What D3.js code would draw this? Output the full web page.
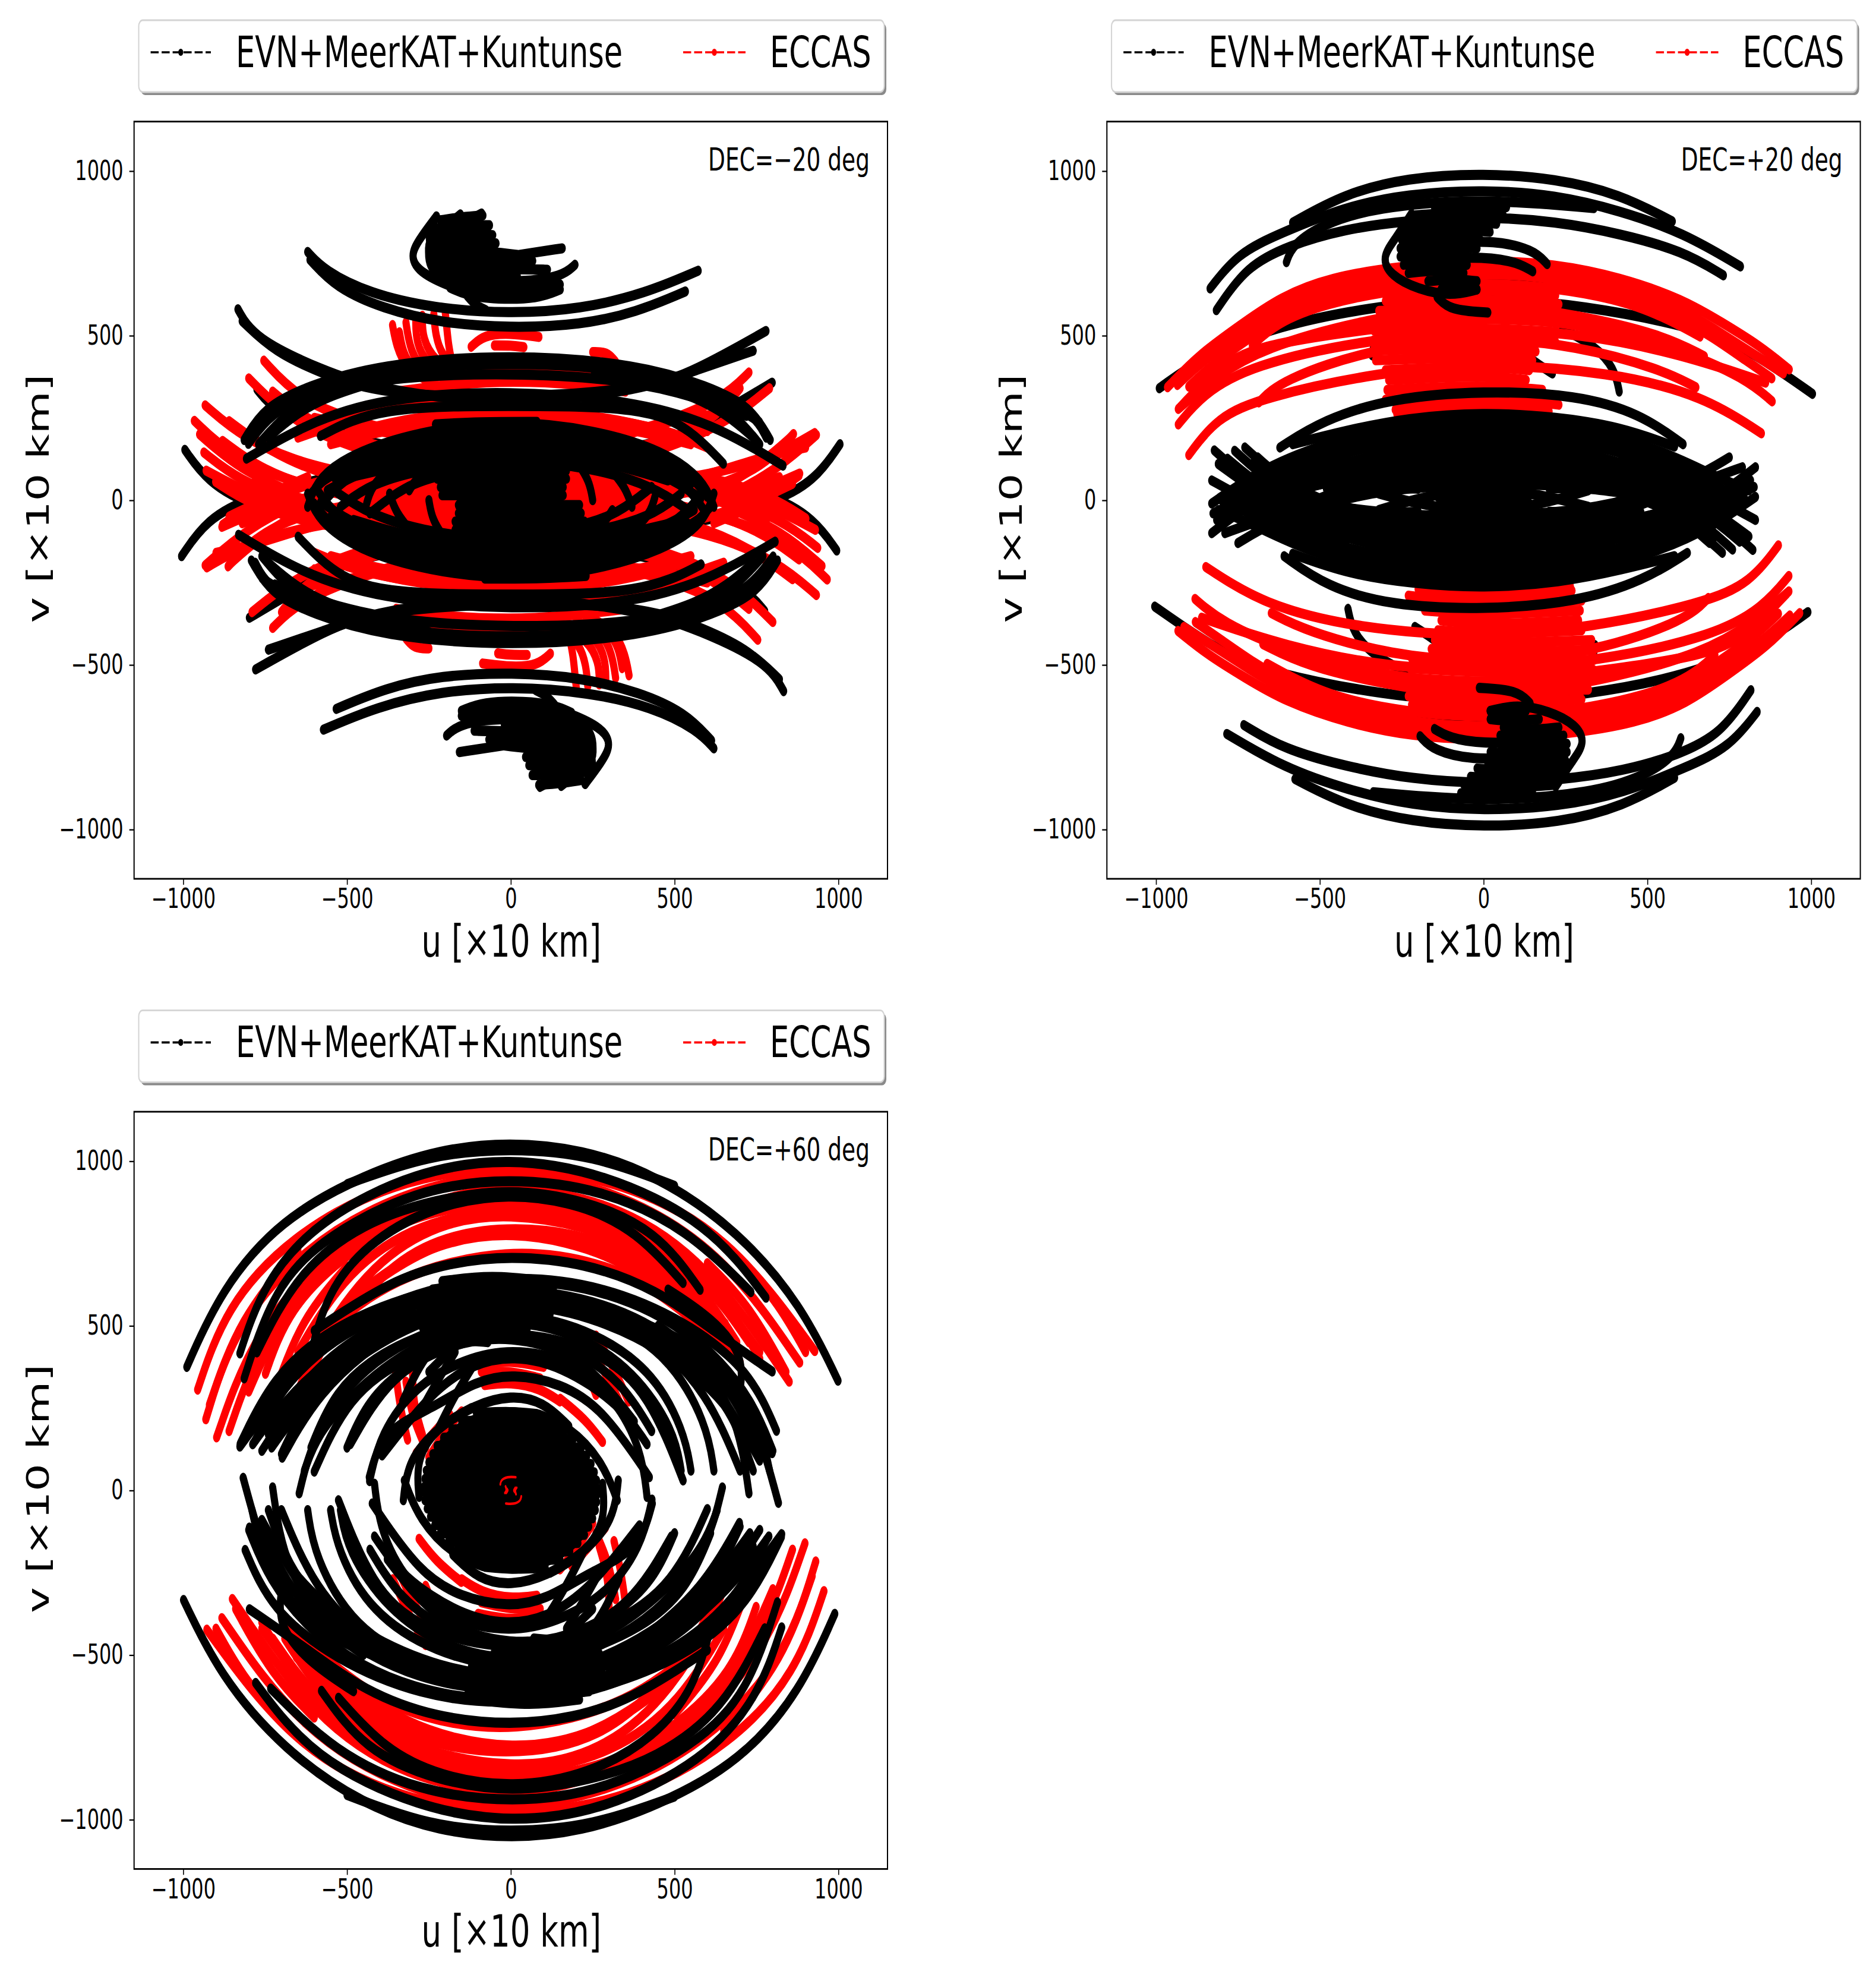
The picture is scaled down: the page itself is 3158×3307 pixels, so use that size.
<!DOCTYPE html>
<html><head><meta charset="utf-8">
<script src="https://cdn.jsdelivr.net/npm/d3@7"></script>
<style>html,body{margin:0;padding:0;background:#fff}svg{display:block}text{font-family:"DejaVu Sans",sans-serif;fill:#000}</style>
</head><body><svg id="fig" width="3158" height="3307"></svg>
<script>
// Tick values and labels
const tickValues = [-1000,-500,0,500,1000];
const seriesNames = ["EVN+MeerKAT+Kuntunse","ECCAS"];
const seriesColors = ["#000000","#ff0000"];
const decLabels = ["DEC=\u221220 deg","DEC=+20 deg","DEC=+60 deg"];
const axisLabels = ["u [\u00d710 km]","v [\u00d710 km]"];

// Tracks as [u,v] points. Only one half is listed:
// every track is drawn with its conjugate (-u,-v), as the picture shows.
const decM20BlackBack = [
 [[-775,337],[-725,275],[-613,231],[-445,177],[-200,130],[0,118],[200,130],[475,177],[578,225],[700,300],[798,357]],
 [[-995,153],[-930,60],[-800,-20],[-500,-90],[0,-130],[500,-90],[800,-10],[930,60],[1005,170]]
];
const decM20Red = [
 [[-933,288],[-820,190],[-620,100],[-320,50],[0,30],[320,40],[620,75],[820,140],[928,204]],
 [[-966,241],[-850,130],[-650,45],[-350,-10],[0,-25],[350,-10],[650,40],[790,120],[863,201]],
 [[-937,145],[-830,60],[-650,-10],[-350,-60],[0,-75],[350,-60],[650,-5],[790,40],[882,81]],
 [[-901,56],[-800,-10],[-620,-70],[-350,-110],[0,-125],[300,-110],[600,-60],[780,10],[860,50]],
 [[-754,424],[-650,310],[-450,220],[-200,170],[0,160],[200,170],[450,220],[650,310],[727,388]],
 [[-727,330],[-620,240],[-450,170],[-200,125],[0,115],[200,125],[450,170],[620,240],[700,340]],
 [[-880,180],[-760,90],[-560,20],[-300,-20],[0,-35]],
 [[-800,370],[-680,250],[-500,160],[-250,105],[0,90],[250,105],[500,160],[680,250],[790,340]],
 [[-860,240],[-740,150],[-560,70],[-300,20],[0,5],[300,15],[560,60],[760,130],[900,160]],
 [[-780,60],[-640,0],[-450,-50],[-200,-80],[0,-90],[200,-80],[450,-50],[640,0],[820,70]],
 [[-950,200],[-830,95],[-660,20]],
 [[-930,90],[-800,20],[-640,-35]],
 [[-933,-198],[-810,-90],[-640,0],[-500,50]],
 [[-858,-194],[-740,-90],[-600,-15]],
 [[-880,-75],[-760,10],[-620,70]],
 [[-650,190],[-480,250],[-300,290],[-100,305]],
 [[-620,300],[-480,240],[-320,200],[-100,180]],
 [[-600,250],[-450,215],[-300,195]],
 [[-600,215],[-450,270],[-300,300]],
 [[300,300],[450,270],[600,210]],
 [[300,195],[450,225],[620,300]],
 [[330,240],[470,215],[600,160]],
 [[330,190],[470,240],[620,260]],
 [[-500,340],[-250,395],[0,408],[250,395],[500,340]],
 [[-350,330],[-150,355],[0,362],[200,355],[350,330]],
 [[-200,305],[0,312],[200,305]],
 [[-500,200],[-300,255],[0,275],[300,255],[500,200]],
 [[-550,170],[-320,230],[0,252],[320,230],[550,170]],
 [[-361,532],[-350,470],[-320,400],[-250,360]],
 [[-340,510],[-330,450],[-300,395],[-230,365]],
 [[-320,540],[-310,470],[-280,400],[-200,370]],
 [[-290,550],[-290,480],[-255,410],[-190,380]],
 [[-270,560],[-270,490],[-230,420],[-170,390]],
 [[-235,565],[-230,500],[-210,440],[-175,410]],
 [[-200,570],[-195,520],[-190,470],[-180,420]],
 [[-121,466],[-82,502],[-5,508],[86,496]],
 [[-50,470],[0,470],[40,465]],
 [[250,450],[295,450],[320,420]],
 [[-500,50],[-300,110],[0,135],[300,110],[500,50]],
 [[-520,-20],[-300,60],[0,85],[300,60],[520,-20]]
];
const decM20Black = [
 [[-620,754],[-568,697],[-432,628],[-238,583],[-5,566],[215,580],[410,628],[572,697]],
 [[-613,730],[-535,646],[-393,583],[-212,538],[-5,523],[215,532],[384,571],[533,634]],
 [[-227,862],[-277,796],[-309,742],[-277,688],[-160,640],[-100,622]],
 [[-227,862],[-257,808],[-238,742],[-134,718],[21,745],[157,765]],
 [[-154,868],[-212,820],[-225,754],[-134,694],[8,703],[112,700]],
 [[-89,871],[-160,832],[-186,760],[-108,712],[67,727]],
 [[196,715],[157,679],[34,661],[-134,670],[-225,706],[-238,754]],
 [[151,655],[99,640],[-31,631],[-160,652],[-251,694],[-251,766]],
 [[151,640],[86,613],[-43,610],[-134,622],[-186,646]],
 [[-134,622],[-108,592],[-76,577]],
 [[-215,850],[-150,860],[-85,865]],
 [[-230,825],[-140,835],[-65,835]],
 [[-245,800],[-140,810],[-55,805]],
 [[-250,775],[-140,785],[-45,780]],
 [[-250,750],[-100,760],[20,745]],
 [[-245,725],[-100,735],[60,730]],
 [[-235,700],[-80,705],[100,700]],
 [[-210,680],[-100,685],[20,680]],
 [[-180,660],[-60,665],[100,660]],
 [[-120,640],[-30,640],[80,640]],
 [[-833,580],[-782,490],[-574,394],[-406,336],[-5,285],[410,336],[565,394],[779,514]],
 [[-820,544],[-723,451],[-568,381],[-393,321],[-5,310],[400,335],[578,400],[740,454]],
 [[-807,126],[-626,231],[-406,309],[-5,336],[410,297],[643,219],[831,105]],
 [[-581,195],[-406,285],[-5,287],[410,285],[552,213],[649,111]],
 [[-814,183],[-756,279],[-626,345],[-406,412],[-5,445],[397,412],[604,345],[733,285],[792,183]],
 [[-801,171],[-730,267],[-613,321],[-406,394],[-5,423],[410,394],[630,321],[759,237]],
 [[-782,226],[-717,279],[-587,321],[-393,373],[-5,388],[358,367],[578,310],[720,256]],
 [[-790,190],[-720,280],[-610,345],[-406,403],[-5,435],[410,403],[620,335],[745,260],[780,190]],
 [[-770,170],[-690,260],[-590,320],[-450,370],[-250,400]],
 [[-740,190],[-660,260],[-560,315],[-430,355]],
 [[250,400],[450,370],[590,320],[690,255],[760,170]],
 [[430,355],[560,315],[660,260],[740,190]],
 [[-620,-20],[-590,70],[-470,150],[-250,215],[0,243],[250,215],[470,150],[590,60],[620,-20]],
 [[-610,20],[-540,95],[-400,160],[-200,205],[0,220],[200,205],[400,160],[540,90],[600,10]],
 [[-590,-30],[-520,60],[-380,130],[-200,175],[0,192],[200,178],[400,125],[530,55],[590,-30]],
 [[-570,60],[-470,125],[-320,170],[-120,200],[100,205],[320,170],[490,110],[570,50]],
 [[-540,70],[-450,110],[-300,150],[-120,180],[120,180],[300,150],[440,110],[550,50]],
 [[-560,30],[-450,90],[-300,135],[-100,160],[100,165],[300,135],[470,80],[580,5]],
 [[-490,70],[-300,115],[-100,140],[100,145],[300,115],[480,60]],
 [[-520,-20],[-430,50],[-250,100],[0,125],[250,100],[440,40],[540,-30]],
 [[-430,-40],[-330,40],[-200,85],[0,100]],
 [[-230,230],[-100,238],[80,238]],[[-235,210],[-100,215],[110,215]],
 [[-235,190],[-100,190],[130,190]],[[-235,165],[-60,165],[150,165]],
 [[-235,140],[-60,140],[165,140]],[[-235,115],[-60,115],[170,115]],
 [[-230,90],[-60,90],[170,90]],[[-225,65],[-60,65],[170,65]],
 [[-215,40],[-60,40],[160,40]],[[-210,15],[-60,15],[160,15]],
 [[-440,-10],[-420,60],[-330,110]],
 [[-310,30],[-280,80],[-200,110]],
 [[300,100],[350,40],[370,-20]],
 [[200,120],[240,60],[250,0]]
];

const decP20BlackBack = [
 [[-990,340],[-855,437],[-634,530],[-311,593],[0,617],[304,593],[654,523],[803,463],[1004,323]],
 [[-647,570],[-285,677],[0,690],[285,673],[654,567]],
 [[414,330],[400,400],[340,470],[240,520]],
 [[-340,440],[-335,480],[-300,520]],
 [[130,440],[170,410],[210,385]],
 [[130,340],[170,300],[180,265]]
];
const decP20Red = [
 [[-965,343],[-868,443],[-745,530],[-622,617],[-466,677],[-259,710],[0,730],[220,717],[415,677],[609,610],[732,537],[842,470],[933,397]],
 [[-935,350],[-850,430],[-730,510],[-622,590],[-450,650],[-259,690],[0,705],[220,695],[415,650],[609,580],[720,510],[830,440],[915,385]],
 [[-900,345],[-820,420],[-710,495],[-600,570],[-440,630],[-240,672],[0,690],[200,680],[400,630],[590,560],[700,495],[800,425],[880,370]],
 [[-706,470],[-634,537],[-492,597],[-233,647],[0,660],[220,647],[479,597],[661,497]],
 [[-932,277],[-816,377],[-673,463],[-362,550],[0,603],[285,563],[544,503],[674,437]],
 [[-932,230],[-855,323],[-712,410],[-350,490],[0,517],[285,510],[609,443],[861,357]],
 [[-926,283],[-820,395],[-700,470],[-350,520],[0,560],[285,540],[600,460],[800,370],[881,300]],
 [[-686,297],[-622,363],[-337,463],[0,497],[285,470],[544,397],[648,343]],
 [[-900,137],[-816,250],[-673,313],[-311,390],[0,417],[388,390],[674,317],[848,203]],
 [[-270,632],[0,642],[220,622]],
 [[-300,605],[0,612],[230,595]],
 [[-320,575],[0,585],[240,565]],
 [[-325,545],[0,555],[235,540]],
 [[-335,515],[0,525],[225,510]],
 [[-337,485],[0,495],[220,480]],
 [[-337,455],[0,465],[160,452]],
 [[-330,425],[0,437],[150,425]],
 [[-300,395],[0,408],[140,395]],
 [[-290,365],[0,380],[130,365]],
 [[-295,335],[0,350],[180,335]],
 [[-300,305],[0,320],[230,290]],
 [[-270,275],[0,300],[200,270]],
 [[-265,262],[0,285],[120,262]]
];
const decP20Black = [
 [[-583,843],[-427,930],[-233,980],[0,993],[220,977],[415,930],[576,847]],
 [[-835,643],[-751,750],[-622,810],[-427,890],[-233,930],[0,943],[220,927],[415,880],[609,813],[784,710]],
 [[-816,577],[-725,710],[-596,773],[-427,823],[-233,850],[0,862],[220,847],[415,810],[609,757],[732,683]],
 [[-602,723],[-583,777],[-492,837],[-337,890],[0,917],[337,887]],
 [[-220,870],[-272,790],[-311,737],[-285,683],[-200,640],[-100,620],[-20,640]],
 [[-142,617],[-103,577],[13,570]],
 [[194,717],[155,760],[30,790],[-100,780]],
 [[150,695],[90,730],[-50,740],[-130,730]],
 [[-150,890],[-40,900],[70,890]],
 [[-210,865],[-70,875],[60,865]],
 [[-240,840],[-100,850],[40,840]],
 [[-245,815],[-100,825],[20,815]],
 [[-250,790],[-120,800],[-10,790]],
 [[-255,765],[-130,775],[-20,765]],
 [[-255,740],[-150,750],[-50,740]],
 [[-245,715],[-150,725],[-50,715]],
 [[-230,690],[-140,700],[-60,690]],
 [[-170,665],[-90,672],[-20,665]],
 [[-130,640],[-70,645],[-20,640]],
 [[-622,160],[-492,243],[-285,310],[0,333],[285,320],[479,263],[609,170]],
 [[-583,170],[-427,210],[-233,250],[0,267],[220,253],[415,223],[583,163]],
 [[-830,-10],[-700,80],[-550,150],[-300,225],[0,262],[300,225],[550,150],[700,75],[810,30]],
 [[-800,0],[-660,85],[-500,150],[-300,205],[0,238],[300,205],[500,150],[680,70],[790,-10]],
 [[-780,-20],[-640,65],[-480,130],[-280,180],[0,210],[280,180],[480,130],[640,65],[770,-15]],
 [[-740,-30],[-600,55],[-440,110],[-260,155],[0,182],[260,155],[440,110],[620,40],[760,-30]],
 [[-700,-10],[-560,60],[-400,95],[-220,130],[0,155],[220,130],[400,95],[560,55],[700,-10]],
 [[-640,10],[-500,50],[-350,80],[-200,105],[0,125],[200,105],[350,80],[500,50],[640,10]],
 [[-550,-15],[-420,40],[-280,65],[-120,80],[0,95],[120,80],[280,65],[420,40],[550,-15]],
 [[-480,35],[-330,55],[-120,60],[120,60],[330,55],[480,35]],
 [[-320,-30],[-120,30],[120,32],[320,-20]],
 [[-140,10],[0,12],[130,10]],
 [[-440,20],[-300,40],[-200,35]],
 [[200,35],[300,40],[440,20]],
 [[-700,30],[-540,90],[-420,125]],
 [[420,125],[540,90],[700,30]],
 [[-640,90],[-500,135],[-380,165]],
 [[380,165],[500,135],[640,90]],
 [[-822,151],[-720,60],[-550,-30],[-300,-90],[0,-110],[300,-90],[550,-40],[720,10],[808,38]],
 [[-782,126],[-680,40],[-520,-50],[-300,-120],[0,-140],[300,-120],[550,-70],[700,-20],[826,40]],
 [[-729,160],[-630,70],[-480,-20],[-280,-70],[0,-80],[280,-60],[500,0],[680,60],[790,100]],
 [[-700,120],[-580,40],[-440,-25],[-280,-45],[0,-50],[300,-35],[520,20],[650,70],[750,130]],
 [[-760,150],[-650,50],[-500,-30]],
 [[-690,130],[-600,50],[-470,-20]],
 [[-830,60],[-740,10],[-620,-50]],
 [[-810,110],[-700,30],[-580,-40]],
 [[640,-30],[740,30],[830,100]],
 [[600,-60],[720,0],[815,60]]
];

const decP60BlackBack = [];
const decP60Red = [
 [[-956,306],[-872,554],[-678,768],[-367,940],[-5,995],[345,940],[669,775],[928,423]],
 [[-931,216],[-846,492],[-639,733],[-341,906],[-5,975],[306,919],[643,733],[882,388]],
 [[-898,161],[-795,457],[-587,706],[-289,871],[-5,930],[319,875],[604,692],[850,330]],
 [[-749,354],[-678,554],[-497,726],[-289,844],[-5,885],[306,830],[578,664],[727,450]],
 [[-684,209],[-587,471],[-393,719],[-186,823],[-5,840],[215,809],[436,719],[655,506]],
 [[-432,609],[-289,747],[-5,816],[397,747],[695,430]],
 [[-574,471],[-367,650],[-5,740],[280,692],[449,609],[669,423]],
 [[-470,590],[-300,720],[-5,825],[350,730],[560,560]],
 [[-450,610],[-280,735],[-5,800],[340,715],[540,540]],
 [[-650,420],[-520,640],[-320,800],[-5,870],[330,800],[560,610],[700,390]],
 [[-800,300],[-700,530],[-520,730],[-260,880],[-5,930],[270,880],[540,720],[760,420]],
 [[-920,260],[-830,520],[-650,730]],
 [[-860,180],[-770,440],[-600,650]],
 [[-720,300],[-640,520],[-500,680]],
 [[-660,230],[-580,440],[-450,620]],
 [[900,420],[800,600],[650,740]],
 [[840,360],[730,560],[600,690]],
 [[760,400],[650,590],[520,710]],
 [[690,450],[600,590],[480,700]],
 [[-354,381],[-340,260],[-315,154]],
 [[-300,400],[-300,270],[-270,170]],
 [[-320,330],[-300,220],[-260,130]],
 [[-289,113],[-240,170],[-186,230]],
 [[-250,100],[-200,180],[-150,240]],
 [[-50,460],[0,480],[80,450]],
 [[-100,385],[0,395],[100,375]],
 [[-90,360],[0,362],[90,340]],
 [[-80,320],[0,330],[90,310],[150,270]],
 [[21,582],[120,560],[215,533]],
 [[190,457],[280,388],[345,237]],
 [[151,278],[228,216],[280,147]],
 [[160,440],[230,370],[260,290]],
 [[260,470],[310,380],[360,270]]
];
const decP60RedCore = [
 [[-32,18],[-30,32],[-10,42],[15,40]],
 [[-12,5],[-8,0],[-14,-8]],
 [[18,8],[12,0],[16,-12]]
];
const decP60Black = [
 [[-989,375],[-885,609],[-704,823],[-445,961],[-212,1037],[-5,1057],[215,1037],[449,957],[695,788],[889,561],[999,333]],
 [[-500,930],[-250,1020],[0,1040],[250,1020],[500,925]],
 [[-827,416],[-756,630],[-587,823],[-289,971],[-5,1012],[280,965],[604,816],[779,585]],
 [[-814,340],[-736,582],[-600,754],[-289,916],[-5,950],[280,916],[539,795],[733,602]],
 [[-775,419],[-652,664],[-445,816],[-238,882],[-5,918],[228,882],[449,788],[578,609]],
 [[-607,430],[-562,595],[-445,747],[-238,865],[-5,905],[215,870],[384,788],[526,630]],
 [[-600,485],[-367,637],[-186,692],[-5,713],[228,692],[449,609],[617,485],[798,361]],
 [[-827,133],[-704,299],[-587,444],[-341,595],[-5,657],[280,623],[539,513],[733,361],[811,181]],
 [[-788,140],[-678,292],[-458,485],[-5,630],[449,506],[669,375],[798,113]],
 [[-760,120],[-650,290],[-440,460],[-200,570],[-5,605],[250,560],[500,440],[680,310],[780,120]],
 [[-730,130],[-630,270],[-430,440],[-200,545],[-5,575],[240,535],[480,420],[660,270],[760,90]],
 [[-698,99],[-587,299],[-393,464],[-225,554],[-5,610],[215,570],[430,470],[600,300],[700,60]],
 [[-600,57],[-497,285],[-315,416],[-5,499],[280,423],[423,292],[526,30]],
 [[-490,140],[-367,354],[-173,450],[-5,471],[215,416],[377,209]],
 [[-393,106],[-238,305],[-108,388],[8,409],[151,381],[332,264],[416,140]],
 [[-432,40],[-393,181],[-238,250],[-108,333],[8,354],[151,326],[280,250],[423,40]],
 [[-630,60],[-590,170],[-480,300],[-300,440],[-100,510]],
 [[-328,-30],[-315,90],[-225,190],[-110,260],[0,290],[100,270],[177,195]],
 [[325,-30],[280,90],[177,195],[86,230]],
 [[-826,141],[-730,340],[-560,490],[-300,600],[0,650],[300,610],[560,480],[730,280],[817,-38]],
 [[-781,150],[-690,330],[-520,480],[-280,580],[0,620],[290,575],[530,450],[690,250],[727,-9]],
 [[-700,110],[-610,300],[-470,440],[-250,540],[0,585],[260,540],[480,420],[600,200],[620,60]],
 [[-646,-9],[-600,180],[-450,380],[-230,500],[0,545],[230,495],[430,370],[530,180],[550,60]],
 [[-431,28],[-400,170],[-290,320],[-140,400],[0,430],[180,400],[320,280],[400,120],[416,-20]],
 [[-610,130],[-540,300],[-400,420],[-200,500],[0,520],[200,480],[380,360],[500,180],[520,60]],
 [[-500,130],[-440,270],[-320,380],[-160,450],[0,480],[180,440],[340,330],[430,180]],
 [[-770,200],[-650,370],[-480,500],[-250,590]],
 [[-740,170],[-620,350],[-470,470],[-300,550]],
 [[-720,180],[-600,320],[-480,420],[-340,500]],
 [[-760,250],[-640,400],[-500,500]],
 [[-690,200],[-590,340],[-450,450]],
 [[800,120],[740,270],[620,420],[470,530]],
 [[760,100],[700,260],[590,400],[450,500]],
 [[790,60],[760,200],[660,370],[520,490]],
 [[740,60],[680,230],[570,370],[430,480]],
 [[720,160],[640,300],[530,420],[400,510]],
 [[-210,635],[-60,655],[110,635]],[[-240,610],[-70,630],[130,612]],
 [[-260,585],[-80,605],[140,590]],[[-280,555],[-90,580],[135,560]],
 [[-285,525],[-100,555],[120,535]],[[-270,495],[-100,530],[90,510]],
 [[-255,470],[-100,505],[50,490]],[[-240,445],[-110,480],[-10,470]],
 [[-235,430],[-150,458],[-70,450]],
 [[-330,270],[-280,380],[-210,470]],
 [[-270,250],[-220,340],[-170,420]],
 [[-220,190],[-170,290],[-120,370]],
 [[-250,360],[-190,420],[-130,470]],
 [[690,260],[720,400],[620,520],[480,610]],
 [[-260,0],[-240,110],[-170,190],[-60,240],[60,240],[170,170],[250,40]],
 [[-265,10],[0,15],[265,5]],[[-262,35],[0,40],[262,30]],[[-258,60],[0,65],[255,55]],
 [[-250,85],[0,90],[245,80]],[[-238,110],[0,115],[232,105]],[[-225,135],[0,140],[215,130]],
 [[-205,160],[0,165],[190,155]],[[-180,185],[0,190],[160,180]],[[-150,210],[0,215],[125,205]],
 [[-105,235],[0,240],[80,232]],
 [[-280,-20],[-290,90],[-230,190],[-120,250]]
];

const panelTracks = [
 [decM20BlackBack, decM20Red, decM20Black, []],
 [decP20BlackBack, decP20Red, decP20Black, []],
 [decP60BlackBack, decP60Red, decP60Black, decP60RedCore]
];
const panelOffsets = [[0,0],[1637.6,0],[0,1666.4]];

const K = 1.42;                 // the whole figure is stretched vertically
const Y = p => p / K;
const left = 225.7, right = 1494, top_ = 204.6, bottom = 1479;

const root = d3.select("#fig").append("g").attr("transform", `scale(1,${K})`);
const x = d3.scaleLinear().domain([-1150,1150]).range([left,right]);
const y = d3.scaleLinear().domain([-1150,1150]).range([Y(bottom),Y(top_)]);
const line = d3.line().x(d=>x(d[0])).y(d=>y(d[1])).curve(d3.curveBasis);
const conj = t => t.map(p=>[-p[0],-p[1]]);
const tickFmt = d3.format("d");

panelTracks.forEach((layers,i)=>{
  const [dx,dy] = panelOffsets[i];
  const g = root.append("g").attr("transform",`translate(${dx},${Y(dy)})`);

  // legend
  const lg = g.append("g");
  lg.append("rect").attr("x",237).attr("y",Y(39)).attr("width",1255).attr("height",Y(121))
    .attr("rx",7).attr("fill","#8a8a8a");
  lg.append("rect").attr("x",233.5).attr("y",Y(34)).attr("width",1255).attr("height",Y(121))
    .attr("rx",7).attr("fill","#fff").attr("stroke","#d4d4d4").attr("stroke-width",2);
  [[253.6,355,397],[1150,1255,1296]].forEach((pos,s)=>{
    lg.append("line").attr("x1",pos[0]).attr("x2",pos[1]).attr("y1",Y(88)).attr("y2",Y(88))
      .attr("stroke",seriesColors[s]).attr("stroke-width",2.6).attr("stroke-dasharray","13.5,5");
    lg.append("circle").attr("cx",(pos[0]+pos[1])/2).attr("cy",Y(88)).attr("r",4.2).attr("fill",seriesColors[s]);
    lg.append("text").attr("x",pos[2]).attr("y",Y(113)).attr("font-size",51).text(seriesNames[s]);
  });

  // tracks
  const marks = g.append("g").attr("fill","none").attr("stroke-linecap","round").attr("stroke-linejoin","round");
  [[0,seriesColors[0],12],[1,seriesColors[1],12],[2,seriesColors[0],12],[3,seriesColors[1],3]].forEach(([l,c,w])=>{
    const tr = layers[l].flatMap(t=>[t,conj(t)]);
    marks.append("g").attr("stroke",c).attr("stroke-width",w)
      .selectAll("path").data(tr).join("path").attr("d",line);
  });

  // frame and axes
  g.append("rect").attr("x",left).attr("y",Y(top_)).attr("width",right-left).attr("height",Y(bottom-top_))
    .attr("fill","none").attr("stroke","#000").attr("stroke-width",2);
  const ax = g.append("g").attr("transform",`translate(0,${Y(bottom)})`)
    .call(d3.axisBottom(x).tickValues(tickValues).tickFormat(tickFmt).tickSize(7).tickPadding(5));
  const ay = g.append("g").attr("transform",`translate(${left},0)`)
    .call(d3.axisLeft(y).tickValues(tickValues).tickFormat(tickFmt).tickSize(8).tickPadding(10));
  [ax,ay].forEach(a=>{
    a.select(".domain").remove();
    a.selectAll("line").attr("stroke","#000").attr("stroke-width",1.6);
    a.selectAll("text").attr("font-size",32).attr("font-family",'"DejaVu Sans",sans-serif').attr("fill","#000");
  });
  g.append("text").attr("x",1464).attr("y",Y(287)).attr("text-anchor","end").attr("font-size",37.5).text(decLabels[i]);
  g.append("text").attr("x",(left+right)/2+1).attr("y",Y(1610)).attr("text-anchor","middle").attr("font-size",53).text(axisLabels[0]);
  g.append("text").attr("transform",`translate(82,${Y(839)}) rotate(-90)`).attr("text-anchor","middle").attr("font-size",52).text(axisLabels[1]);
});
</script></body></html>
